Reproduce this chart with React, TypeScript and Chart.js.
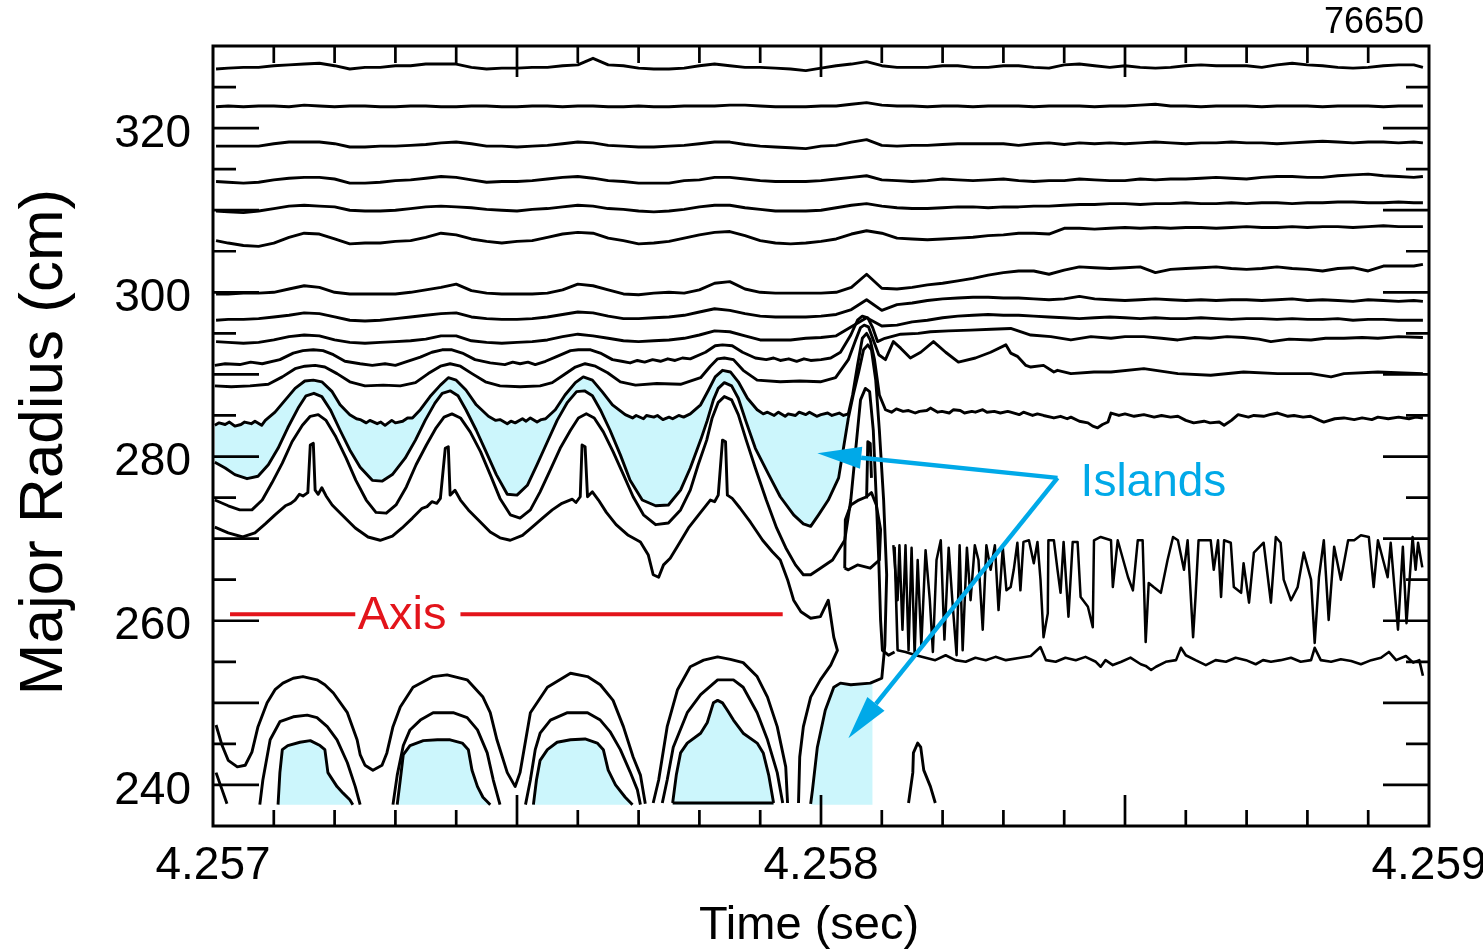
import React, { useEffect, useRef } from 'react';
import { Chart, registerables } from 'chart.js';

Chart.register(...registerables);

// ---------- axes ----------
const T0 = 4.257; // s, times below are microseconds after T0
const X_MIN = 4.257;
const X_MAX = 4.259;
const Y_MIN = 235;
const Y_MAX = 330;
const X_MINOR_TICKS = [4.2571, 4.2572, 4.2573, 4.2574, 4.2575, 4.2576, 4.2577, 4.2578, 4.2579, 4.258, 4.2581, 4.2582, 4.2583, 4.2584, 4.2585, 4.2586, 4.2587, 4.2588, 4.2589];
const X_MAJOR_TICKS = [4.2575, 4.258, 4.2585];
const X_LABEL_VALUES = [4.257, 4.258, 4.259];
const X_LABELS = ['4.257', '4.258', '4.259'];
const Y_TICKS = [240, 245, 250, 255, 260, 265, 270, 275, 280, 285, 290, 295, 300, 305, 310, 315, 320, 325];
const Y_LABEL_VALUES = [240, 260, 280, 300, 320];
const Y_LABELS = ['240', '260', '280', '300', '320'];
const X_TITLE = 'Time (sec)';
const Y_TITLE = 'Major Radius (cm)';
const SHOT = '76650';

// ---------- upper traces on a common time grid (us after T0) ----------
const T_GRID = [5, 25, 50, 75, 100, 125, 150, 175, 200, 225, 250, 275, 300, 325, 350, 375, 400, 425, 450, 475, 500, 525, 550, 575, 600, 625, 650, 675, 700, 725, 750, 775, 800, 825, 850, 875, 900, 925, 950, 975, 1000, 1025, 1050, 1075, 1100, 1125, 1150, 1175, 1200, 1225, 1250, 1275, 1300, 1325, 1350, 1375, 1400, 1425, 1450, 1475, 1500, 1525, 1550, 1575, 1600, 1625, 1650, 1675, 1700, 1725, 1750, 1775, 1800, 1825, 1850, 1875, 1900, 1925, 1950, 1975, 1990];

const R1 = [327.2, 327.3, 327.4, 327.4, 327.6, 327.7, 327.8, 327.9, 327.6, 327.2, 327.4, 327.4, 327.6, 327.6, 327.8, 327.8, 327.8, 327.4, 327.2, 327.3, 327.3, 327.4, 327.4, 327.6, 327.7, 328.5, 327.7, 327.6, 327.3, 327.2, 327.2, 327.3, 327.6, 327.8, 327.6, 327.4, 327.4, 327.3, 327.2, 327.0, 327.3, 327.6, 327.8, 328.1, 327.6, 327.4, 327.4, 327.4, 327.6, 327.6, 327.4, 327.4, 327.6, 327.6, 327.4, 327.3, 327.7, 327.8, 327.6, 327.4, 327.6, 327.4, 327.3, 327.4, 327.6, 327.7, 327.6, 327.6, 327.6, 327.4, 327.7, 327.9, 327.7, 327.6, 327.4, 327.3, 327.4, 327.6, 327.7, 327.7, 327.4];
const R2 = [322.6, 322.7, 322.6, 322.7, 322.7, 322.6, 322.8, 322.7, 322.6, 322.7, 322.7, 322.6, 322.6, 322.7, 322.7, 322.6, 322.6, 322.7, 322.7, 322.6, 322.6, 322.7, 322.7, 322.6, 322.7, 322.7, 322.6, 322.6, 322.7, 322.6, 322.6, 322.7, 322.7, 322.7, 322.8, 322.8, 322.7, 322.6, 322.6, 322.6, 322.7, 322.7, 322.9, 323.1, 322.8, 322.7, 322.7, 322.6, 322.7, 322.7, 322.6, 322.7, 322.7, 322.7, 322.6, 322.7, 322.7, 322.7, 322.6, 322.7, 322.7, 322.8, 322.9, 322.7, 322.7, 322.6, 322.7, 322.7, 322.7, 322.6, 322.7, 322.7, 322.7, 322.6, 322.7, 322.7, 322.7, 322.6, 322.7, 322.7, 322.7];
const R3 = [317.8, 317.8, 317.8, 317.8, 318.1, 318.3, 318.3, 318.3, 318.1, 317.7, 317.7, 317.8, 317.8, 317.9, 318.0, 318.2, 318.3, 318.1, 317.8, 317.8, 317.7, 317.8, 317.9, 318.1, 318.3, 318.2, 317.9, 317.8, 317.7, 317.7, 317.8, 317.9, 318.1, 318.3, 318.3, 318.0, 317.8, 317.7, 317.6, 317.5, 317.8, 317.9, 318.3, 318.6, 317.9, 317.8, 317.9, 317.9, 318.0, 318.1, 318.1, 318.1, 318.1, 317.9, 318.1, 318.2, 318.0, 318.2, 318.1, 318.2, 318.1, 318.2, 318.3, 318.2, 318.1, 318.2, 318.2, 318.3, 318.2, 318.2, 318.1, 318.2, 318.3, 318.4, 318.3, 318.2, 318.3, 318.3, 318.2, 318.3, 318.2];
const R4 = [313.5, 313.4, 313.3, 313.4, 313.7, 313.9, 314.0, 314.0, 313.8, 313.3, 313.3, 313.4, 313.6, 313.7, 313.9, 314.1, 314.0, 313.7, 313.4, 313.5, 313.5, 313.6, 313.8, 314.0, 314.1, 313.9, 313.6, 313.5, 313.3, 313.3, 313.3, 313.6, 313.7, 314.0, 314.0, 313.8, 313.6, 313.5, 313.5, 313.5, 313.6, 313.8, 314.0, 314.2, 313.7, 313.6, 313.5, 313.6, 313.8, 313.7, 313.6, 313.7, 313.8, 313.6, 313.5, 313.6, 313.6, 313.8, 313.7, 313.6, 313.6, 313.8, 313.7, 313.8, 313.8, 313.9, 314.0, 313.9, 313.8, 314.0, 314.1, 314.1, 314.0, 314.0, 314.2, 314.3, 314.4, 314.2, 314.1, 314.0, 314.1];
const R5 = [309.9, 309.8, 309.7, 309.9, 310.2, 310.5, 310.6, 310.5, 310.4, 310.0, 309.9, 309.9, 310.0, 310.2, 310.4, 310.5, 310.4, 310.3, 310.1, 310.0, 309.9, 310.1, 310.2, 310.4, 310.6, 310.5, 310.2, 310.1, 309.9, 309.8, 309.9, 310.1, 310.4, 310.6, 310.6, 310.3, 310.1, 309.9, 309.9, 309.9, 310.0, 310.3, 310.6, 310.8, 310.5, 310.3, 310.2, 310.2, 310.3, 310.4, 310.4, 310.3, 310.4, 310.4, 310.5, 310.5, 310.6, 310.7, 310.7, 310.8, 310.8, 310.7, 310.8, 310.8, 310.9, 310.8, 310.8, 310.9, 310.8, 310.9, 310.9, 310.8, 310.9, 310.9, 311.0, 311.0, 310.9, 310.9, 311.0, 310.9, 310.9];
const R6 = [306.3, 306.0, 305.7, 305.6, 306.0, 306.7, 307.2, 307.1, 306.5, 305.9, 306.0, 306.0, 306.2, 306.3, 306.7, 307.2, 307.0, 306.5, 306.2, 306.0, 306.2, 306.3, 306.7, 307.1, 307.3, 307.2, 306.6, 306.3, 305.9, 306.0, 306.2, 306.6, 307.0, 307.3, 307.4, 306.9, 306.3, 306.0, 305.9, 306.0, 306.2, 306.5, 307.1, 307.5, 307.2, 306.6, 306.5, 306.4, 306.5, 306.6, 306.7, 306.9, 307.0, 307.2, 307.2, 307.1, 307.8, 307.8, 307.7, 307.8, 307.9, 307.8, 307.9, 307.8, 307.9, 307.9, 307.8, 307.9, 308.0, 307.9, 307.9, 308.0, 307.9, 308.0, 308.0, 307.9, 308.0, 308.1, 308.0, 308.0, 308.0];
const R7 = [299.8, 299.8, 299.9, 299.9, 300.0, 300.4, 300.8, 300.6, 300.0, 299.8, 299.8, 299.8, 299.8, 300.0, 300.3, 300.6, 301.0, 300.2, 299.9, 299.8, 299.8, 299.8, 299.9, 300.3, 301.0, 300.8, 300.3, 299.8, 299.7, 299.9, 300.0, 299.9, 300.3, 301.1, 301.3, 300.4, 300.0, 299.9, 299.9, 299.9, 299.9, 300.0, 300.6, 302.2, 300.5, 300.4, 300.6, 300.9, 301.1, 301.4, 301.7, 302.1, 302.4, 302.6, 302.6, 302.2, 302.7, 303.1, 303.0, 302.9, 303.0, 303.1, 302.4, 302.8, 302.9, 303.0, 303.1, 302.9, 302.8, 302.9, 303.1, 302.9, 302.8, 302.6, 302.9, 303.0, 302.6, 303.2, 303.2, 303.2, 303.4];
const R8 = [296.6, 296.7, 296.7, 296.8, 297.0, 297.2, 297.5, 297.4, 297.0, 296.6, 296.5, 296.6, 296.8, 297.0, 297.2, 297.4, 297.5, 297.0, 296.8, 296.7, 296.7, 296.8, 297.0, 297.3, 297.6, 297.5, 297.1, 296.8, 296.8, 296.9, 297.0, 297.2, 297.6, 298.0, 297.8, 297.4, 297.1, 297.0, 297.0, 297.0, 297.1, 297.3, 297.9, 299.1, 297.8, 298.5, 298.7, 299.0, 299.2, 299.3, 299.4, 299.4, 299.3, 299.3, 299.2, 299.1, 299.2, 299.5, 299.2, 299.1, 299.0, 299.1, 299.2, 299.1, 299.0, 299.1, 299.0, 299.1, 299.1, 299.0, 299.1, 299.2, 299.0, 299.1, 299.0, 298.9, 299.1, 299.0, 298.9, 299.0, 298.9];
const R9 = [294.0, 293.9, 293.8, 293.9, 294.2, 294.6, 294.8, 294.7, 294.2, 293.9, 293.8, 293.9, 294.0, 294.1, 294.3, 294.7, 294.7, 294.1, 293.9, 293.8, 293.9, 294.0, 294.2, 294.6, 294.9, 294.7, 294.4, 294.1, 294.0, 294.1, 294.2, 294.4, 294.8, 295.3, 295.2, 294.7, 294.2, 294.2, 294.2, 294.4, 294.5, 294.7, 295.8, 296.9, 295.9, 296.0, 296.4, 296.6, 296.9, 297.1, 297.2, 297.3, 297.2, 297.2, 297.1, 297.0, 296.9, 296.8, 296.9, 297.0, 296.9, 296.8, 296.9, 296.8, 296.8, 296.9, 296.8, 296.7, 296.8, 296.8, 296.7, 296.8, 296.7, 296.7, 296.8, 296.6, 296.7, 296.7, 296.6, 296.6, 296.6];

// ---------- traces given as [time us, radius cm] pairs ----------
const L10 = [3, 291.1, 20, 291.3, 44, 291.2, 62, 291.5, 81, 291.3, 110, 291.8, 132, 292.6, 148, 292.9, 165, 293.0, 181, 292.9, 198, 292.4, 217, 291.6, 242, 291.3, 262, 291.1, 283, 291.3, 300, 291.1, 316, 291.5, 341, 292.1, 360, 292.7, 377, 293.0, 393, 293.0, 410, 292.6, 431, 291.8, 456, 291.4, 480, 291.2, 493, 291.5, 505, 291.3, 518, 291.5, 530, 291.2, 547, 291.6, 566, 292.2, 588, 292.9, 601, 293.0, 621, 293.0, 637, 292.6, 657, 291.8, 672, 291.6, 686, 291.4, 698, 291.7, 710, 291.5, 723, 291.8, 736, 291.6, 748, 291.9, 760, 291.7, 772, 292.0, 785, 291.9, 810, 292.7, 826, 293.5, 838, 293.6, 854, 293.5, 871, 292.7, 892, 292.0, 910, 291.8, 922, 292.0, 933, 291.7, 947, 291.9, 960, 291.6, 972, 291.9, 983, 291.7, 1000, 291.8, 1016, 292.0, 1032, 292.7, 1049, 294.8, 1060, 296.6, 1068, 297.1, 1077, 296.9, 1085, 295.7, 1093, 294.0, 1105, 294.4, 1131, 294.9, 1160, 295.0, 1180, 295.2, 1210, 295.3, 1246, 295.4, 1280, 295.5, 1312, 295.6, 1345, 294.8, 1378, 294.6, 1411, 294.2, 1444, 294.6, 1477, 294.4, 1500, 294.6, 1531, 294.6, 1560, 294.4, 1587, 294.2, 1615, 294.5, 1641, 294.4, 1668, 294.6, 1695, 294.5, 1720, 294.3, 1740, 294.0, 1770, 294.3, 1806, 294.2, 1830, 294.4, 1860, 294.4, 1890, 294.5, 1916, 294.4, 1950, 294.6, 1990, 294.5];
const L11 = [3, 288.6, 30, 288.5, 61, 288.6, 91, 288.8, 114, 289.7, 135, 290.7, 151, 291.0, 168, 291.1, 184, 290.9, 204, 290.1, 225, 289.1, 250, 288.6, 280, 288.7, 308, 288.6, 333, 289.0, 354, 290.1, 374, 291.0, 390, 291.3, 407, 291.0, 426, 290.1, 448, 289.1, 472, 288.6, 505, 288.5, 538, 288.6, 558, 289.0, 576, 289.9, 596, 290.9, 612, 291.3, 629, 291.0, 649, 290.2, 670, 289.1, 695, 288.7, 730, 288.9, 769, 288.8, 802, 289.6, 818, 291.0, 830, 291.9, 841, 292.0, 856, 291.8, 872, 290.5, 895, 289.3, 933, 289.1, 965, 289.2, 999, 289.1, 1024, 289.6, 1045, 291.8, 1057, 294.2, 1065, 295.7, 1071, 296.0, 1078, 295.8, 1086, 294.2, 1095, 292.4, 1106, 291.8, 1119, 294.0, 1131, 293.2, 1147, 292.0, 1164, 292.7, 1185, 294.0, 1205, 292.7, 1226, 291.5, 1254, 292.0, 1279, 292.7, 1304, 293.6, 1312, 292.6, 1323, 292.2, 1337, 291.1, 1345, 290.9, 1366, 291.1, 1383, 290.3, 1389, 290.5, 1411, 290.1, 1449, 290.3, 1477, 290.3, 1531, 290.7, 1587, 290.1, 1641, 289.9, 1695, 290.3, 1751, 290.1, 1806, 290.1, 1839, 289.7, 1860, 290.1, 1916, 290.3, 1990, 290.1];
const L12A = [3, 283.8, 10, 284.1, 20, 283.9, 27, 284.2, 36, 283.7, 46, 283.9, 52, 284.2, 63, 284.0, 69, 284.3, 80, 283.8, 86, 284.4, 102, 285.4, 119, 286.9, 135, 288.3, 151, 289.2, 165, 289.3, 179, 289.1, 196, 287.9, 209, 286.3, 225, 285.1, 236, 284.6, 242, 284.5, 252, 284.1, 258, 284.4, 270, 284.0, 276, 284.2, 283, 283.8, 294, 284.4, 300, 284.1, 312, 284.3, 320, 284.7, 328, 284.7, 341, 285.7, 357, 287.3, 374, 288.7, 387, 289.6, 400, 289.3, 416, 288.1, 433, 286.3, 453, 284.9, 465, 284.4, 472, 284.5, 484, 284.0, 490, 284.3, 497, 284.1, 509, 284.6, 515, 284.3, 522, 284.7, 533, 284.2, 540, 284.5, 547, 284.6, 563, 285.7, 579, 287.5, 596, 289.0, 609, 289.7, 624, 289.3, 640, 287.9, 657, 286.3, 678, 285.1, 690, 284.7, 696, 285.0, 708, 284.6, 713, 285.0, 725, 284.8, 731, 285.0, 740, 284.5, 750, 284.8, 756, 284.6, 766, 285.0, 774, 284.8, 785, 285.2, 802, 286.3, 815, 288.1, 826, 289.7, 838, 290.5, 851, 290.3, 864, 289.1, 879, 287.1, 895, 285.7, 905, 285.2, 912, 285.4, 923, 285.0, 930, 285.4, 941, 284.9, 946, 285.2, 958, 285.0, 964, 285.4, 975, 285.1, 981, 285.4, 993, 284.9, 1000, 285.1, 1011, 285.3, 1018, 285.0, 1030, 285.3, 1037, 285.0, 1045, 285.2];
const L12B = [1045, 285.2, 1052, 287.5, 1060, 291.1, 1068, 294.4, 1075, 295.0, 1081, 294.2, 1088, 291.8, 1096, 287.5, 1106, 285.7, 1116, 285.4, 1124, 285.8, 1135, 285.5, 1144, 285.6, 1155, 285.3, 1162, 285.5, 1174, 285.6, 1180, 285.9, 1192, 285.4, 1199, 285.5, 1211, 285.3, 1218, 285.7, 1229, 285.6, 1236, 285.3, 1248, 285.5, 1254, 285.4, 1266, 285.7, 1273, 285.4, 1285, 285.5, 1295, 285.3, 1307, 285.5, 1312, 285.4, 1326, 285.1, 1333, 285.4, 1348, 285.0, 1356, 285.2, 1366, 285.0, 1383, 284.7, 1394, 284.9, 1405, 284.6, 1411, 284.8, 1425, 284.3, 1439, 284.1, 1447, 283.7, 1455, 283.5, 1463, 283.9, 1472, 284.2, 1477, 285.3, 1490, 285.0, 1500, 285.2, 1515, 284.9, 1531, 285.1, 1548, 284.8, 1560, 285.0, 1575, 284.8, 1587, 284.9, 1600, 284.4, 1613, 284.1, 1630, 284.3, 1640, 284.1, 1655, 284.2, 1663, 283.8, 1675, 284.4, 1686, 285.1, 1703, 284.8, 1712, 285.0, 1728, 284.9, 1738, 285.1, 1751, 285.3, 1768, 284.9, 1778, 285.0, 1793, 284.8, 1805, 284.9, 1820, 284.4, 1827, 284.2, 1845, 284.6, 1860, 284.7, 1877, 284.5, 1890, 284.7, 1906, 284.5, 1916, 284.8, 1933, 284.6, 1950, 284.8, 1967, 284.6, 1978, 284.8, 1990, 284.7];
const L13A = [3, 279.3, 20, 278.6, 36, 277.8, 56, 277.3, 74, 277.6, 91, 279.0, 107, 281.0, 123, 283.5, 140, 285.9, 153, 287.4, 166, 287.7, 179, 287.3, 193, 285.7, 209, 283.2, 225, 280.8, 242, 278.7, 262, 277.1, 278, 277.0, 295, 277.8, 316, 279.8, 333, 282.0, 349, 284.4, 365, 286.5, 377, 287.7, 390, 288.0, 403, 287.4, 416, 285.7, 433, 283.2, 449, 280.6, 466, 277.8, 484, 275.4, 500, 275.3, 517, 276.5, 533, 279.0, 550, 281.8, 566, 284.4, 583, 286.6, 598, 287.9, 611, 288.0, 624, 287.4, 637, 285.7, 653, 283.2, 670, 280.2, 686, 277.1, 706, 274.7, 728, 274.0, 749, 274.1, 769, 275.9, 785, 278.6, 802, 282.0, 813, 284.4, 823, 286.9, 831, 288.3, 841, 289.0, 853, 288.6, 864, 287.1, 876, 284.4, 892, 281.0, 914, 277.8, 933, 275.1, 955, 272.9, 971, 271.8, 983, 271.5, 996, 272.9, 1012, 274.7, 1029, 277.4, 1045, 284.7];
const L13B = [1045, 284.7, 1053, 287.5, 1062, 290.3, 1070, 293.0, 1077, 293.6, 1083, 293.0, 1090, 289.3, 1096, 283.2, 1103, 274.7, 1108, 265.6, 1105, 257.0, 1100, 253.0, 1081, 252.4, 1049, 252.2, 1032, 252.4, 1021, 251.9, 1007, 249.1, 994, 244.6, 986, 239.4, 983, 237.7];
const L14 = [3, 274.7, 25, 274.0, 44, 273.5, 64, 273.5, 81, 274.7, 97, 276.8, 114, 279.2, 130, 281.8, 147, 283.8, 160, 284.9, 173, 285.1, 186, 284.4, 202, 282.4, 219, 279.8, 235, 277.1, 252, 274.7, 268, 273.2, 285, 273.1, 301, 274.1, 318, 276.3, 334, 279.0, 351, 281.4, 367, 283.5, 380, 284.8, 393, 285.2, 407, 284.7, 423, 283.0, 440, 280.6, 456, 277.8, 472, 274.9, 489, 272.9, 505, 272.5, 522, 273.5, 538, 275.7, 555, 278.4, 571, 281.0, 588, 283.2, 601, 284.7, 614, 285.2, 627, 284.7, 642, 283.0, 658, 280.6, 675, 277.8, 691, 275.1, 708, 272.9, 728, 271.7, 749, 271.9, 769, 273.5, 785, 275.9, 798, 279.0, 812, 282.0, 821, 284.7, 831, 286.6, 841, 287.3, 853, 286.9, 864, 285.1, 877, 282.0, 892, 278.6, 910, 274.7, 927, 271.3, 942, 268.9, 958, 266.8, 971, 265.6, 983, 265.6, 999, 266.4, 1019, 267.4, 1039, 269.8, 1049, 274.7, 1057, 280.8, 1065, 286.9, 1073, 288.3, 1080, 287.9, 1086, 283.2, 1091, 274.7, 1095, 267.4, 1098, 260.1, 1101, 256.4, 1111, 255.8, 1121, 256.2];
const L15 = [3, 271.4, 25, 270.7, 49, 270.2, 69, 270.7, 86, 271.8, 102, 272.9, 119, 274.0, 128, 274.3, 135, 274.7, 142, 275.4, 148, 275.2, 156, 275.6, 160, 281.4, 165, 281.6, 168, 275.9, 173, 275.4, 179, 276.2, 186, 275.2, 196, 274.1, 212, 272.9, 234, 271.3, 255, 270.2, 275, 269.8, 295, 270.3, 311, 271.3, 328, 272.5, 344, 273.7, 352, 273.9, 360, 274.5, 368, 274.3, 374, 274.9, 382, 281.0, 387, 281.2, 390, 275.3, 398, 275.9, 407, 274.7, 420, 273.5, 436, 272.3, 456, 270.8, 472, 270.1, 489, 269.8, 509, 270.4, 525, 271.4, 542, 272.5, 558, 273.5, 574, 274.3, 591, 274.8, 597, 274.4, 604, 275.1, 607, 281.4, 612, 281.2, 616, 275.1, 624, 275.7, 634, 274.7, 647, 273.2, 663, 271.7, 683, 270.4, 703, 269.6, 716, 268.0, 724, 265.6, 733, 265.3, 741, 266.8, 752, 267.6, 765, 269.2, 782, 271.3, 802, 273.2, 818, 274.7, 825, 274.5, 831, 275.3, 838, 282.0, 843, 281.8, 846, 275.3, 854, 274.9, 867, 273.7, 884, 272.0, 904, 269.8, 920, 268.4, 933, 267.4, 945, 265.0, 955, 262.5, 967, 261.1, 983, 260.3, 999, 260.5, 1012, 262.5, 1021, 258.0, 1027, 256.4, 1016, 254.6, 999, 252.8, 983, 250.7, 971, 247.1, 965, 243.4, 963, 237.8];
const SPIKE_IN = [1075, 274.9, 1077, 281.8, 1081, 281.6, 1083, 277.4];
const LOOP_IN = [1039, 266.4, 1040, 272.3, 1049, 274.1, 1062, 274.7, 1075, 275.1, 1083, 275.6, 1091, 274.1, 1098, 271.1, 1096, 267.4, 1081, 266.4, 1060, 266.8, 1045, 266.2, 1039, 266.4];
const TEL = [1119, 269.2, 1126, 262.5, 1129, 269.2, 1134, 258.9, 1139, 269.2, 1144, 256.4, 1149, 268.9, 1154, 255.8, 1159, 267.4, 1165, 257.0, 1172, 268.6, 1179, 262.5, 1184, 256.2, 1190, 267.4, 1197, 269.8, 1203, 257.7, 1210, 268.9, 1216, 262.5, 1223, 255.8, 1228, 269.2, 1233, 256.4, 1240, 268.9, 1246, 262.5, 1253, 269.2, 1259, 267.4, 1266, 258.9, 1272, 269.2, 1279, 266.2, 1286, 269.2, 1292, 261.3, 1299, 268.9, 1305, 263.7, 1312, 264.1, 1317, 266.2, 1323, 269.5, 1328, 263.7, 1333, 269.6, 1342, 269.8, 1350, 267.0, 1356, 269.6, 1361, 265.0, 1366, 258.0, 1373, 260.9, 1374, 269.8, 1383, 269.8, 1389, 266.2, 1394, 263.4, 1399, 269.6, 1407, 260.5, 1414, 269.6, 1422, 269.6, 1427, 262.9, 1439, 261.7, 1447, 259.2, 1449, 269.8, 1460, 270.2, 1477, 269.8, 1480, 264.1, 1488, 269.8, 1505, 265.3, 1513, 263.7, 1521, 269.8, 1529, 269.8, 1534, 257.4, 1539, 264.6, 1547, 264.1, 1559, 263.4, 1570, 267.4, 1579, 270.2, 1587, 269.8, 1597, 266.2, 1603, 269.8, 1612, 258.0, 1616, 262.9, 1621, 269.8, 1641, 269.8, 1646, 266.2, 1653, 269.8, 1658, 262.9, 1663, 269.8, 1674, 269.5, 1679, 264.1, 1691, 263.4, 1695, 267.0, 1704, 262.2, 1712, 268.3, 1728, 269.5, 1740, 262.2, 1748, 270.2, 1756, 269.5, 1761, 265.0, 1773, 262.5, 1784, 264.1, 1794, 268.3, 1806, 265.0, 1812, 257.3, 1819, 265.3, 1827, 269.8, 1835, 260.1, 1844, 269.0, 1855, 265.0, 1867, 269.8, 1877, 269.8, 1888, 270.4, 1901, 270.2, 1909, 264.1, 1916, 269.8, 1932, 265.3, 1937, 269.5, 1949, 258.9, 1957, 269.0, 1963, 259.7, 1973, 270.2, 1978, 266.2, 1982, 269.5, 1989, 266.5];
const LOW = [1121, 269.0, 1126, 256.4, 1139, 256.2, 1156, 255.8, 1172, 255.5, 1188, 255.2, 1205, 255.8, 1221, 255.2, 1238, 255.0, 1254, 255.5, 1271, 255.2, 1287, 255.6, 1304, 255.2, 1328, 255.5, 1345, 255.7, 1361, 256.8, 1370, 255.2, 1386, 255.0, 1402, 255.5, 1419, 255.2, 1435, 255.6, 1452, 255.0, 1460, 254.4, 1468, 255.2, 1480, 254.6, 1494, 255.0, 1509, 255.5, 1526, 254.7, 1534, 254.5, 1543, 254.0, 1551, 254.4, 1567, 255.0, 1584, 255.2, 1592, 256.7, 1600, 255.8, 1616, 255.2, 1633, 254.6, 1649, 255.2, 1666, 255.0, 1682, 255.5, 1699, 255.2, 1715, 254.7, 1727, 255.2, 1740, 255.0, 1756, 255.2, 1773, 255.5, 1789, 255.0, 1806, 255.2, 1812, 256.7, 1822, 255.2, 1839, 255.0, 1855, 255.3, 1872, 255.1, 1888, 254.7, 1905, 255.2, 1921, 255.5, 1934, 256.2, 1946, 255.2, 1962, 255.7, 1974, 254.9, 1984, 255.2, 1990, 253.3];

// lower arches
const A0 = [5, 247.3, 15, 244.8, 25, 243.0, 40, 242.2, 53, 242.4, 64, 244.0, 74, 247.1, 89, 250.0, 102, 251.6, 115, 252.4, 132, 253.0, 148, 253.2, 171, 252.8, 184, 252.2, 198, 251.2, 221, 248.8, 237, 245.5, 242, 243.7, 250, 242.4, 263, 241.8, 278, 242.4, 286, 243.9, 296, 247.1, 308, 249.5, 329, 251.9, 362, 253.2, 385, 253.4, 418, 252.8, 444, 250.7, 456, 248.8, 467, 245.5, 484, 241.5, 497, 239.8, 505, 241.5, 522, 248.8, 550, 251.9, 588, 253.6, 616, 253.2, 637, 252.2, 658, 250.3, 675, 247.1, 691, 243.4, 703, 241.2, 711, 237.7];
const LP = [5, 241.5, 15, 239.4, 23, 237.7];
const A2 = [77, 237.6, 82, 240.6, 94, 245.5, 110, 247.7, 132, 248.3, 155, 248.5, 171, 248.2, 188, 247.1, 204, 245.5, 221, 242.7, 234, 239.8, 242, 237.6];
const A3 = [107, 237.6, 110, 241.5, 114, 244.3, 123, 244.8, 143, 245.2, 160, 245.4, 176, 244.8, 184, 244.3, 189, 241.5, 204, 239.8, 214, 239.0, 225, 238.2, 230, 237.6];
const B2 = [296, 237.6, 303, 241.2, 313, 244.8, 324, 246.7, 341, 247.9, 362, 248.8, 395, 248.8, 418, 248.2, 435, 246.7, 451, 243.9, 461, 240.6, 472, 237.6];
const B3 = [303, 237.6, 308, 240.6, 313, 243.7, 324, 244.8, 346, 245.4, 369, 245.5, 390, 245.5, 410, 245.1, 420, 244.3, 426, 241.8, 435, 239.8, 444, 238.5, 456, 237.6];
const C2 = [514, 237.6, 522, 240.6, 530, 244.3, 538, 246.3, 555, 247.9, 583, 248.8, 616, 248.8, 637, 247.9, 653, 246.5, 670, 244.3, 686, 241.6, 698, 239.4, 703, 237.6];
const C3 = [527, 237.6, 532, 240.6, 538, 243.0, 550, 244.3, 566, 245.2, 588, 245.5, 612, 245.6, 632, 245.1, 642, 244.3, 650, 241.8, 662, 240.0, 678, 238.5, 690, 237.6];
const D0 = [724, 237.8, 733, 240.6, 747, 247.1, 764, 251.6, 785, 254.4, 807, 255.2, 830, 255.6, 851, 255.3, 872, 254.9, 895, 253.2, 912, 250.7, 928, 247.1, 942, 242.2, 945, 237.8];
const D2 = [739, 237.8, 747, 240.6, 757, 244.6, 780, 248.8, 802, 251.0, 830, 252.8, 856, 252.8, 872, 251.9, 895, 248.8, 912, 245.5, 928, 241.5, 937, 237.8];
const D3 = [756, 237.8, 762, 241.2, 769, 243.9, 780, 245.1, 802, 246.3, 813, 247.6, 823, 250.0, 830, 250.3, 838, 250.0, 846, 249.1, 856, 247.9, 872, 246.3, 895, 245.1, 905, 243.9, 914, 241.2, 922, 237.8];
const D3_BASE = [756, 237.8, 922, 237.8];
const ISLAND2 = [983, 237.7, 994, 244.6, 1007, 249.1, 1021, 251.9, 1032, 252.4, 1049, 252.2, 1085, 252.4];
const SMALL_PEAK = [1144, 237.8, 1151, 241.5, 1152, 243.9, 1159, 245.1, 1164, 244.6, 1169, 241.8, 1180, 239.8, 1188, 237.8];
const FILL_BASE = 237.6;

// annotations (us after T0, cm)
const AXIS_R = 260.8;
const AXIS_SEGMENTS = [[28, 234], [407, 937]];
const AXIS_TEXT_POS = [311, 260.6];
const ISLAND_TEXT_POS = [1427, 276.7];
const ARROW_FROM = [1389, 277.4];
const ARROW_TIPS = [[994, 280.4], [1045, 245.7]];

const CYAN = '#ccf6fc';
const BLUE = '#00a9e8';
const RED = '#e3141b';
const FONT = '"Liberation Sans", Arial, Helvetica, sans-serif';
const LINE_W = 2.9;

const gridPts = (rs: number[]) => rs.map((r, i) => ({ x: T0 + T_GRID[i] * 1e-6, y: r }));
const pairPts = (a: number[]) => {
  const out: { x: number; y: number }[] = [];
  for (let i = 0; i < a.length; i += 2) out.push({ x: T0 + a[i] * 1e-6, y: a[i + 1] });
  return out;
};

const line = (data: any, extra: any = {}) => ({
  data,
  borderColor: '#000',
  borderWidth: LINE_W,
  borderJoinStyle: 'round',
  pointRadius: 0,
  tension: 0,
  fill: false,
  ...extra,
});

const decor = {
  id: 'decor',
  afterDatasetsDraw(chart: any) {
    const { ctx, chartArea: a, scales } = chart;
    const xs = scales.x;
    const ys = scales.y;
    const px = (t: number) => xs.getPixelForValue(T0 + t * 1e-6);
    const py = (r: number) => ys.getPixelForValue(r);
    ctx.save();

    // red axis marker
    ctx.strokeStyle = RED;
    ctx.lineWidth = 4;
    ctx.beginPath();
    for (const [t1, t2] of AXIS_SEGMENTS) {
      ctx.moveTo(px(t1), py(AXIS_R));
      ctx.lineTo(px(t2), py(AXIS_R));
    }
    ctx.stroke();
    ctx.fillStyle = RED;
    ctx.font = `47px ${FONT}`;
    ctx.textAlign = 'center';
    ctx.textBaseline = 'middle';
    ctx.fillText('Axis', px(AXIS_TEXT_POS[0]), py(AXIS_TEXT_POS[1]));

    // islands arrows
    ctx.strokeStyle = BLUE;
    ctx.fillStyle = BLUE;
    ctx.lineWidth = 4.5;
    const fx = px(ARROW_FROM[0]);
    const fy = py(ARROW_FROM[1]);
    for (const [tt, rr] of ARROW_TIPS) {
      const tx = px(tt);
      const ty = py(rr);
      const ang = Math.atan2(ty - fy, tx - fx);
      const hl = 44;
      const hw = 11;
      const bx = tx - hl * Math.cos(ang);
      const by = ty - hl * Math.sin(ang);
      ctx.beginPath();
      ctx.moveTo(fx, fy);
      ctx.lineTo(bx, by);
      ctx.stroke();
      ctx.beginPath();
      ctx.moveTo(tx, ty);
      ctx.lineTo(bx + hw * Math.sin(ang), by - hw * Math.cos(ang));
      ctx.lineTo(bx - hw * Math.sin(ang), by + hw * Math.cos(ang));
      ctx.closePath();
      ctx.fill();
    }
    ctx.font = `46px ${FONT}`;
    ctx.textAlign = 'left';
    ctx.fillText('Islands', px(ISLAND_TEXT_POS[0]), py(ISLAND_TEXT_POS[1]));

    // inward ticks on all four sides
    ctx.strokeStyle = '#000';
    ctx.lineWidth = 2.7;
    ctx.beginPath();
    for (const v of X_MINOR_TICKS) {
      const x = xs.getPixelForValue(v);
      const major = X_MAJOR_TICKS.includes(v);
      ctx.moveTo(x, a.top);
      ctx.lineTo(x, a.top + (major ? 31 : 17));
      ctx.moveTo(x, a.bottom);
      ctx.lineTo(x, a.bottom - (major ? 31 : 16));
    }
    for (const v of Y_TICKS) {
      const y = ys.getPixelForValue(v);
      const len = v % 10 === 0 ? 46 : 23;
      ctx.moveTo(a.left, y);
      ctx.lineTo(a.left + len, y);
      ctx.moveTo(a.right, y);
      ctx.lineTo(a.right - len, y);
    }
    ctx.stroke();

    // frame
    ctx.lineWidth = 3;
    ctx.strokeRect(a.left, a.top, a.right - a.left, a.bottom - a.top);

    // tick labels
    ctx.fillStyle = '#000';
    ctx.font = `46px ${FONT}`;
    ctx.textAlign = 'center';
    ctx.textBaseline = 'middle';
    X_LABEL_VALUES.forEach((v, i) => {
      ctx.fillText(X_LABELS[i], xs.getPixelForValue(v), a.bottom + 40);
    });
    ctx.textAlign = 'right';
    Y_LABEL_VALUES.forEach((v, i) => {
      ctx.fillText(Y_LABELS[i], a.left - 22, ys.getPixelForValue(v) + 6);
    });

    // titles
    ctx.textAlign = 'center';
    ctx.font = `47px ${FONT}`;
    ctx.fillText(X_TITLE, (a.left + a.right) / 2 - 12, a.bottom + 100);
    ctx.save();
    ctx.translate(a.left - 168, (a.top + a.bottom) / 2 + 6);
    ctx.rotate(-Math.PI / 2);
    ctx.font = `62px ${FONT}`;
    ctx.fillText(Y_TITLE, 0, 0);
    ctx.restore();

    ctx.font = `36px ${FONT}`;
    ctx.textAlign = 'right';
    ctx.fillText(SHOT, a.right - 5, a.top - 23);
    ctx.restore();
  },
};

export default function App() {
  const ref = useRef<HTMLCanvasElement | null>(null);
  useEffect(() => {
    const datasets: any[] = [];
    const add = (d: any) => {
      datasets.push(d);
      return datasets.length - 1;
    };
    [R1, R2, R3, R4, R5, R6, R7, R8, R9].forEach((r) => add(line(gridPts(r))));
    add(line(pairPts(L10)));
    add(line(pairPts(L11)));
    const iL12A = add(line(pairPts(L12A)));
    const iL13A = add(line(pairPts(L13A)));
    datasets[iL12A].fill = { target: iL13A, above: CYAN, below: 'rgba(0,0,0,0)' };
    add(line(pairPts(L12B)));
    add(line(pairPts(L13B)));
    add(line(pairPts(L14)));
    add(line(pairPts(L15)));
    add(line(pairPts(SPIKE_IN)));
    add(line(pairPts(LOOP_IN)));
    add(line(pairPts(TEL), { borderWidth: 2.5 }));
    add(line(pairPts(LOW), { borderWidth: 2.6 }));
    add(line(pairPts(A0)));
    add(line(pairPts(LP)));
    add(line(pairPts(A2)));
    add(line(pairPts(A3), { fill: { value: FILL_BASE }, backgroundColor: CYAN }));
    add(line(pairPts(B2)));
    add(line(pairPts(B3), { fill: { value: FILL_BASE }, backgroundColor: CYAN }));
    add(line(pairPts(C2)));
    add(line(pairPts(C3), { fill: { value: FILL_BASE }, backgroundColor: CYAN }));
    add(line(pairPts(D0)));
    add(line(pairPts(D2)));
    add(line(pairPts(D3), { fill: { value: FILL_BASE }, backgroundColor: CYAN }));
    add(line(pairPts(D3_BASE)));
    add(line(pairPts(ISLAND2), { borderWidth: 0, borderColor: 'rgba(0,0,0,0)', fill: { value: FILL_BASE }, backgroundColor: CYAN }));
    add(line(pairPts(SMALL_PEAK)));

    const chart = new Chart(ref.current as HTMLCanvasElement, {
      type: 'line',
      data: { datasets },
      options: {
        responsive: false,
        animation: false,
        devicePixelRatio: 1,
        layout: { padding: { left: 213, top: 46, right: 54, bottom: 124 } },
        scales: {
          x: { type: 'linear', min: X_MIN, max: X_MAX, display: false },
          y: { type: 'linear', min: Y_MIN, max: Y_MAX, display: false },
        },
        plugins: {
          legend: { display: false },
          tooltip: { enabled: false },
          filler: { drawTime: 'beforeDatasetsDraw' },
        },
      } as any,
      plugins: [decor],
    });
    return () => chart.destroy();
  }, []);

  return (
    <div style={{ position: 'absolute', left: 0, top: 0, width: 1483, height: 950, background: '#fff' }}>
      <canvas ref={ref} width={1483} height={950} style={{ display: 'block', width: 1483, height: 950 }} />
    </div>
  );
}
